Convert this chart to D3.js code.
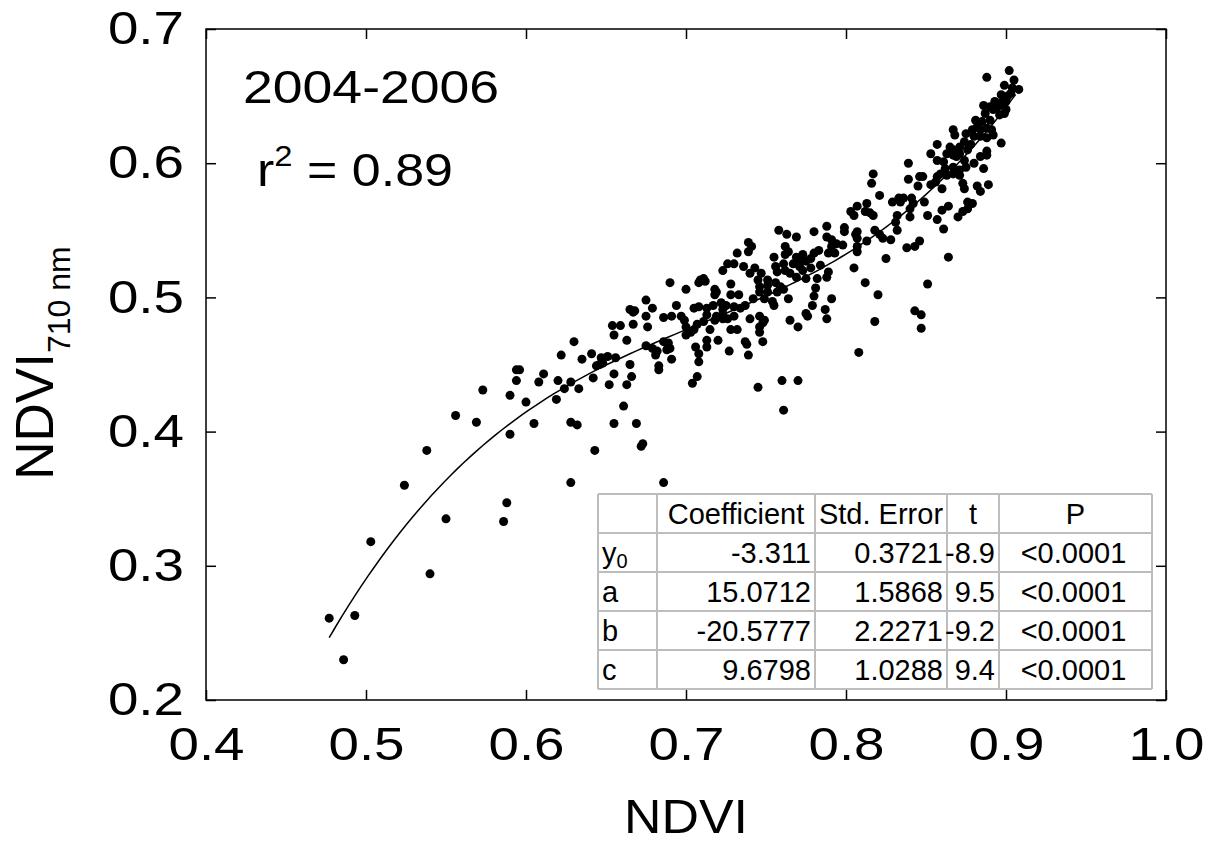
<!DOCTYPE html>
<html>
<head>
<meta charset="utf-8">
<script src="https://cdn.jsdelivr.net/npm/d3@7"></script>
<style>
  body { margin: 0; background: #fff; }
  svg text { font-family: "Liberation Sans", Arial, sans-serif; fill: #000; }
</style>
</head>
<body>
<div id="chart"></div>
<script>
// ---- data ----
const xTicks = [0.4, 0.5, 0.6, 0.7, 0.8, 0.9, 1.0];
const yTicks = [0.2, 0.3, 0.4, 0.5, 0.6, 0.7];

// [NDVI, NDVI710nm]
const obs = [
  [0.477,0.261],[0.493,0.263],[0.486,0.230],[0.503,0.318],[0.524,0.360],[0.540,0.294],[0.538,0.386],
  [0.550,0.335],[0.556,0.412],[0.569,0.407],[0.573,0.431],[0.588,0.347],[0.586,0.333],[0.590,0.398],
  [0.590,0.427],[0.594,0.446],[0.596,0.446],[0.594,0.438],[0.600,0.422],[0.605,0.406],[0.608,0.437],
  [0.611,0.443],[0.619,0.424],[0.620,0.438],[0.622,0.457],[0.624,0.432],[0.628,0.437],[0.628,0.407],
  [0.628,0.362],[0.690,0.511],[0.700,0.506],[0.708,0.511],[0.712,0.512],[0.719,0.504],[0.718,0.502],
  [0.728,0.502],[0.675,0.498],[0.694,0.494],[0.665,0.491],[0.668,0.490],[0.667,0.489],[0.679,0.492],
  [0.675,0.486],[0.686,0.485],[0.691,0.486],[0.697,0.486],[0.699,0.483],[0.705,0.492],[0.708,0.493],
  [0.713,0.492],[0.717,0.494],[0.725,0.494],[0.723,0.491],[0.713,0.487],[0.718,0.483],[0.723,0.484],
  [0.654,0.479],[0.659,0.479],[0.667,0.480],[0.676,0.478],[0.655,0.472],[0.663,0.468],[0.630,0.467],
  [0.641,0.458],[0.635,0.454],[0.647,0.455],[0.651,0.456],[0.656,0.455],[0.644,0.449],[0.646,0.450],
  [0.648,0.451],[0.665,0.450],[0.675,0.464],[0.679,0.462],[0.682,0.460],[0.681,0.457],[0.686,0.467],
  [0.689,0.466],[0.690,0.462],[0.688,0.461],[0.691,0.454],[0.683,0.449],[0.683,0.446],[0.700,0.478],
  [0.703,0.474],[0.700,0.472],[0.705,0.476],[0.707,0.480],[0.715,0.476],[0.713,0.468],[0.720,0.468],
  [0.706,0.463],[0.708,0.458],[0.708,0.452],[0.713,0.463],[0.707,0.441],[0.704,0.436],[0.727,0.460],
  [0.728,0.476],[0.633,0.432],[0.642,0.440],[0.655,0.443],[0.652,0.435],[0.666,0.441],[0.663,0.435],
  [0.661,0.419],[0.632,0.405],[0.655,0.406],[0.669,0.406],[0.673,0.391],[0.672,0.389],[0.643,0.386],
  [0.686,0.362],
  [0.758,0.550],[0.763,0.547],[0.769,0.545],[0.780,0.549],[0.788,0.553],[0.799,0.552],[0.799,0.549],
  [0.807,0.549],[0.806,0.547],[0.813,0.542],[0.788,0.545],[0.791,0.543],[0.794,0.540],[0.798,0.539],
  [0.791,0.538],[0.789,0.533],[0.793,0.533],[0.807,0.538],[0.807,0.534],[0.739,0.541],[0.741,0.538],
  [0.739,0.534],[0.732,0.533],[0.762,0.538],[0.764,0.534],[0.762,0.532],[0.755,0.530],[0.780,0.533],
  [0.783,0.535],[0.778,0.529],[0.769,0.530],[0.773,0.532],[0.771,0.528],[0.775,0.527],[0.767,0.525],
  [0.771,0.523],[0.773,0.520],[0.778,0.522],[0.726,0.525],[0.730,0.525],[0.736,0.523],[0.743,0.522],
  [0.723,0.520],[0.740,0.518],[0.747,0.518],[0.756,0.523],[0.761,0.525],[0.757,0.519],[0.762,0.520],
  [0.765,0.518],[0.769,0.515],[0.775,0.514],[0.784,0.524],[0.789,0.519],[0.788,0.515],[0.782,0.514],
  [0.805,0.522],[0.812,0.511],[0.711,0.514],[0.709,0.513],[0.718,0.506],[0.728,0.510],[0.745,0.513],
  [0.751,0.513],[0.746,0.508],[0.751,0.509],[0.746,0.504],[0.751,0.504],[0.756,0.511],[0.759,0.508],
  [0.757,0.504],[0.761,0.506],[0.733,0.502],[0.742,0.499],[0.749,0.499],[0.754,0.497],[0.755,0.494],
  [0.764,0.499],[0.781,0.507],[0.780,0.501],[0.779,0.494],[0.791,0.499],[0.722,0.496],[0.730,0.493],
  [0.734,0.492],[0.737,0.494],[0.719,0.486],[0.723,0.487],[0.726,0.484],[0.730,0.486],[0.740,0.484],
  [0.746,0.486],[0.749,0.483],[0.748,0.481],[0.746,0.478],[0.765,0.483],[0.770,0.478],[0.775,0.488],
  [0.776,0.486],[0.787,0.491],[0.788,0.484],[0.711,0.482],[0.732,0.476],[0.737,0.467],[0.738,0.465],
  [0.746,0.474],[0.748,0.467],[0.739,0.457],[0.745,0.433],[0.760,0.438],[0.770,0.438],[0.761,0.416],
  [0.808,0.459],
  [0.857,0.614],[0.853,0.607],[0.857,0.602],[0.861,0.601],[0.863,0.607],[0.867,0.610],[0.865,0.612],
  [0.871,0.612],[0.869,0.605],[0.874,0.602],[0.876,0.610],[0.839,0.600],[0.817,0.592],[0.816,0.585],
  [0.839,0.588],[0.846,0.590],[0.845,0.583],[0.848,0.590],[0.857,0.590],[0.859,0.592],[0.863,0.591],
  [0.867,0.592],[0.871,0.591],[0.853,0.584],[0.856,0.586],[0.860,0.581],[0.873,0.585],[0.874,0.581],
  [0.821,0.576],[0.829,0.571],[0.833,0.574],[0.836,0.574],[0.834,0.571],[0.841,0.574],[0.842,0.570],
  [0.840,0.566],[0.849,0.571],[0.864,0.568],[0.860,0.565],[0.876,0.571],[0.803,0.564],[0.805,0.561],
  [0.807,0.568],[0.813,0.570],[0.812,0.564],[0.815,0.563],[0.817,0.561],[0.832,0.561],[0.831,0.556],
  [0.832,0.550],[0.840,0.560],[0.851,0.561],[0.857,0.558],[0.870,0.560],[0.873,0.564],[0.861,0.551],
  [0.807,0.544],[0.818,0.550],[0.821,0.547],[0.823,0.544],[0.828,0.543],[0.838,0.537],[0.843,0.538],
  [0.846,0.542],[0.825,0.529],[0.864,0.530],[0.820,0.502],[0.851,0.510],[0.843,0.490],[0.847,0.487],
  [0.847,0.477],[0.818,0.482],
  [0.902,0.669],[0.888,0.664],[0.905,0.662],[0.899,0.658],[0.908,0.655],[0.904,0.656],[0.897,0.651],
  [0.901,0.650],[0.900,0.646],[0.903,0.652],[0.897,0.645],[0.893,0.646],[0.895,0.642],[0.900,0.640],
  [0.899,0.637],[0.896,0.636],[0.892,0.640],[0.890,0.642],[0.886,0.643],[0.887,0.637],[0.890,0.632],
  [0.885,0.631],[0.881,0.632],[0.882,0.627],[0.879,0.625],[0.884,0.625],[0.888,0.626],[0.891,0.625],
  [0.892,0.621],[0.888,0.619],[0.884,0.620],[0.880,0.620],[0.875,0.622],[0.867,0.625],[0.868,0.621],
  [0.874,0.616],[0.878,0.614],[0.867,0.606],[0.871,0.607],[0.862,0.596],[0.867,0.597],[0.871,0.595],
  [0.875,0.597],[0.880,0.600],[0.884,0.605],[0.888,0.606],[0.888,0.609],[0.897,0.615],[0.886,0.596],
  [0.889,0.584],[0.882,0.583],[0.884,0.579],[0.879,0.570],[0.876,0.566]
];

// regression table (y = y0 + a x + b x^2 + c x^3)
const colHeaders = ["", "Coefficient", "Std. Error", "t", "P"];
const rowLabels = ["y", "a", "b", "c"];
const coefficient = [-3.311, 15.0712, -20.5777, 9.6798];
const stdError = [0.3721, 1.5868, 2.2271, 1.0288];
const tValue = [-8.9, 9.5, -9.2, 9.4];
const pValue = ["<0.0001", "<0.0001", "<0.0001", "<0.0001"];
const fitRange = [0.477, 0.906];

const period = "2004-2006";
const rSquared = "0.89";

// ---- layout ----
const width = 1212, height = 867;
const box = {left: 206, right: 1166, top: 29, bottom: 700};
const font = "'Liberation Sans', Arial, sans-serif";

const x = d3.scaleLinear().domain([0.4, 1.0]).range([box.left, box.right]);
const y = d3.scaleLinear().domain([0.2, 0.7]).range([box.bottom, box.top]);

const svg = d3.select("#chart").append("svg")
  .attr("width", width)
  .attr("height", height);

const fmt = d3.format(".1f");

// the original lettering is a little wider than Arial, stretch it sideways
function widen(sel, k) {
  sel.each(function () {
    const t = d3.select(this);
    const tx = +t.attr("x") || 0, ty = +t.attr("y") || 0;
    t.attr("x", 0).attr("y", 0)
      .attr("transform", "translate(" + tx + "," + ty + ") scale(" + k + ",1)");
  });
}

function styleAxis(g) {
  g.select(".domain").remove();
  g.attr("font-family", font).attr("font-size", 46);
  g.selectAll(".tick line").attr("stroke", "#000").attr("stroke-width", 1.5);
  widen(g.selectAll(".tick text"), 1.19);
}

svg.append("g")
  .attr("transform", "translate(0," + box.bottom + ")")
  .call(d3.axisBottom(x).tickValues(xTicks).tickSize(-10).tickPadding(27).tickFormat(fmt))
  .call(styleAxis);

svg.append("g")
  .attr("transform", "translate(" + box.left + ",0)")
  .call(d3.axisLeft(y).tickValues(yTicks).tickSize(-10).tickPadding(22).tickFormat(fmt))
  .call(styleAxis);

svg.append("g")
  .attr("transform", "translate(0," + box.top + ")")
  .call(d3.axisTop(x).tickValues(xTicks).tickSize(-10).tickFormat(""))
  .call(styleAxis);

svg.append("g")
  .attr("transform", "translate(" + box.right + ",0)")
  .call(d3.axisRight(y).tickValues(yTicks).tickSize(-10).tickFormat(""))
  .call(styleAxis);

svg.append("rect")
  .attr("x", box.left)
  .attr("y", box.top)
  .attr("width", box.right - box.left)
  .attr("height", box.bottom - box.top)
  .attr("fill", "none")
  .attr("stroke", "#000")
  .attr("stroke-width", 1.5);

// points
svg.append("g")
  .selectAll("circle")
  .data(obs)
  .enter().append("circle")
  .attr("cx", d => x(d[0]))
  .attr("cy", d => y(d[1]))
  .attr("r", 4.5)
  .attr("fill", "#000");

// fitted cubic from the table coefficients
const fit = v => coefficient[0] + coefficient[1] * v + coefficient[2] * v * v + coefficient[3] * v * v * v;
const curveX = d3.range(fitRange[0], fitRange[1], 0.004).concat([fitRange[1]]);
svg.append("path")
  .datum(curveX)
  .attr("fill", "none")
  .attr("stroke", "#000")
  .attr("stroke-width", 1.5)
  .attr("d", d3.line().x(d => x(d)).y(d => y(fit(d))));

// annotations
svg.append("text")
  .attr("x", 243).attr("y", 103)
  .attr("font-size", 47)
  .text(period)
  .call(widen, 1.14);

const r2 = svg.append("text").attr("x", 257).attr("y", 186).attr("font-size", 46);
r2.append("tspan").text("r");
r2.append("tspan").attr("font-size", 29).attr("dy", -20).text("2");
r2.append("tspan").attr("dy", 20).text(" = " + rSquared);
r2.call(widen, 1.13);

// axis titles
svg.append("text")
  .attr("x", 686).attr("y", 833)
  .attr("text-anchor", "middle")
  .attr("font-size", 48)
  .text("NDVI")
  .call(widen, 1.08);

const yt = svg.append("text")
  .attr("transform", "translate(53,363) rotate(-90)")
  .attr("text-anchor", "middle")
  .attr("font-size", 53);
yt.append("tspan").text("NDVI");
yt.append("tspan").attr("font-size", 32).attr("dy", 17).text("710 nm");

// table
const colEdges = [598, 657, 815, 947, 999, 1152];
const rowEdges = [494, 533, 572, 611, 650, 689];
const tbl = svg.append("g").attr("font-size", 29);

tbl.append("rect")
  .attr("x", colEdges[0]).attr("y", rowEdges[0])
  .attr("width", colEdges[5] - colEdges[0])
  .attr("height", rowEdges[5] - rowEdges[0])
  .attr("fill", "#fff");

tbl.selectAll("line.v")
  .data(colEdges)
  .enter().append("line")
  .attr("x1", d => d).attr("x2", d => d)
  .attr("y1", rowEdges[0]).attr("y2", rowEdges[5])
  .attr("stroke", "#bdbdbd").attr("stroke-width", 2);

tbl.selectAll("line.h")
  .data(rowEdges)
  .enter().append("line")
  .attr("y1", d => d).attr("y2", d => d)
  .attr("x1", colEdges[0]).attr("x2", colEdges[5])
  .attr("stroke", "#bdbdbd").attr("stroke-width", 2);

const midRow = i => (rowEdges[i] + rowEdges[i + 1]) / 2 + 10;
const midCol = i => (colEdges[i] + colEdges[i + 1]) / 2;

tbl.selectAll("text.h")
  .data(colHeaders)
  .enter().append("text")
  .attr("x", (d, i) => midCol(i))
  .attr("y", midRow(0))
  .attr("text-anchor", "middle")
  .text(d => d);

rowLabels.forEach((lab, r) => {
  const t = tbl.append("text").attr("x", colEdges[0] + 4).attr("y", midRow(r + 1));
  t.append("tspan").text(lab);
  if (r === 0) t.append("tspan").attr("font-size", 20).attr("dy", 5).text("0");
});

const cols = [coefficient.map(String), stdError.map(v => v.toFixed(4)), tValue.map(v => v.toFixed(1))];
cols.forEach((vals, c) => {
  tbl.selectAll(null)
    .data(vals)
    .enter().append("text")
    .attr("x", colEdges[c + 2] - 4)
    .attr("y", (d, r) => midRow(r + 1))
    .attr("text-anchor", "end")
    .text(d => d);
});

tbl.selectAll(null)
  .data(pValue)
  .enter().append("text")
  .attr("x", midCol(4) - 2)
  .attr("y", (d, r) => midRow(r + 1))
  .attr("text-anchor", "middle")
  .text(d => d);
</script>
</body>
</html>
